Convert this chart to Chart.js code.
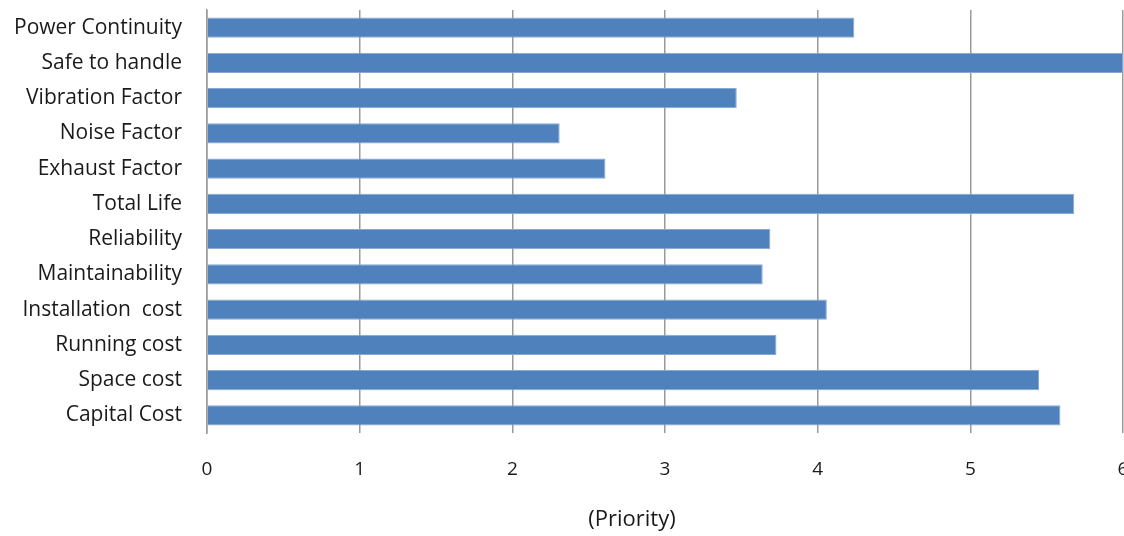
<!DOCTYPE html>
<html>
<head>
<meta charset="utf-8">
<script src="https://cdn.jsdelivr.net/npm/chart.js@4/dist/chart.umd.min.js"></script>
<style>
  html, body { margin: 0; padding: 0; background: #ffffff; }
  #wrap { width: 1124px; height: 536px; }
</style>
</head>
<body>
<div id="wrap"><canvas id="c" width="1124" height="536"></canvas></div>
<script>
const categories = [
  "Power Continuity",
  "Safe to handle",
  "Vibration Factor",
  "Noise Factor",
  "Exhaust Factor",
  "Total Life",
  "Reliability",
  "Maintainability",
  "Installation  cost",
  "Running cost",
  "Space cost",
  "Capital Cost"
];
const priorityValues = [4.24, 6.0, 3.47, 2.31, 2.61, 5.68, 3.69, 3.64, 4.06, 3.73, 5.45, 5.59];
const xTickValues = [0, 1, 2, 3, 4, 5, 6];
const axisTitle = "(Priority)";

const FONT = "'Open Sans', 'DejaVu Sans', sans-serif";
const TEXT = "#1a1a1a";

const titlePlugin = {
  id: 'axisTitleDraw',
  afterDraw(chart) {
    const ctx = chart.ctx;
    ctx.save();
    ctx.font = "22px " + FONT;
    ctx.fillStyle = TEXT;
    ctx.textAlign = 'center';
    ctx.textBaseline = 'middle';
    ctx.fillText(axisTitle, 632, 520);
    ctx.restore();
  }
};

new Chart(document.getElementById('c'), {
  type: 'bar',
  data: {
    labels: categories,
    datasets: [{
      label: axisTitle,
      data: priorityValues,
      backgroundColor: '#4F81BD',
      borderColor: '#86A8D4',
      borderWidth: 1,
      borderSkipped: 'start',
      categoryPercentage: 1.0,
      barPercentage: 0.58
    }]
  },
  options: {
    indexAxis: 'y',
    responsive: false,
    animation: false,
    devicePixelRatio: 1,
    layout: { padding: { top: 10, right: 1, left: 0, bottom: 0 } },
    plugins: {
      legend: { display: false },
      tooltip: { enabled: false },
      title: { display: false }
    },
    scales: {
      x: {
        type: 'linear',
        min: 0,
        max: 6,
        afterBuildTicks(scale) {
          scale.ticks = xTickValues.map(v => ({ value: v }));
        },
        afterFit(scale) {
          scale.height = 103;
          scale.paddingLeft = 0;
          scale.paddingRight = 0;
        },
        ticks: {
          color: TEXT,
          font: { family: FONT, size: 19 },
          padding: 25,
          maxRotation: 0,
          autoSkip: false
        },
        grid: {
          color: '#9a9a9a',
          lineWidth: 1.5,
          drawTicks: false
        },
        border: { display: false }
      },
      y: {
        type: 'category',
        afterFit(scale) {
          scale.width = 207;
          scale.paddingTop = 0;
          scale.paddingBottom = 0;
        },
        ticks: {
          color: TEXT,
          font: { family: FONT, size: 21 },
          padding: 25,
          autoSkip: false
        },
        grid: { display: false, drawTicks: false },
        border: { display: true, color: '#9a9a9a', width: 1.5 }
      }
    }
  },
  plugins: [titlePlugin]
});
</script>
</body>
</html>
